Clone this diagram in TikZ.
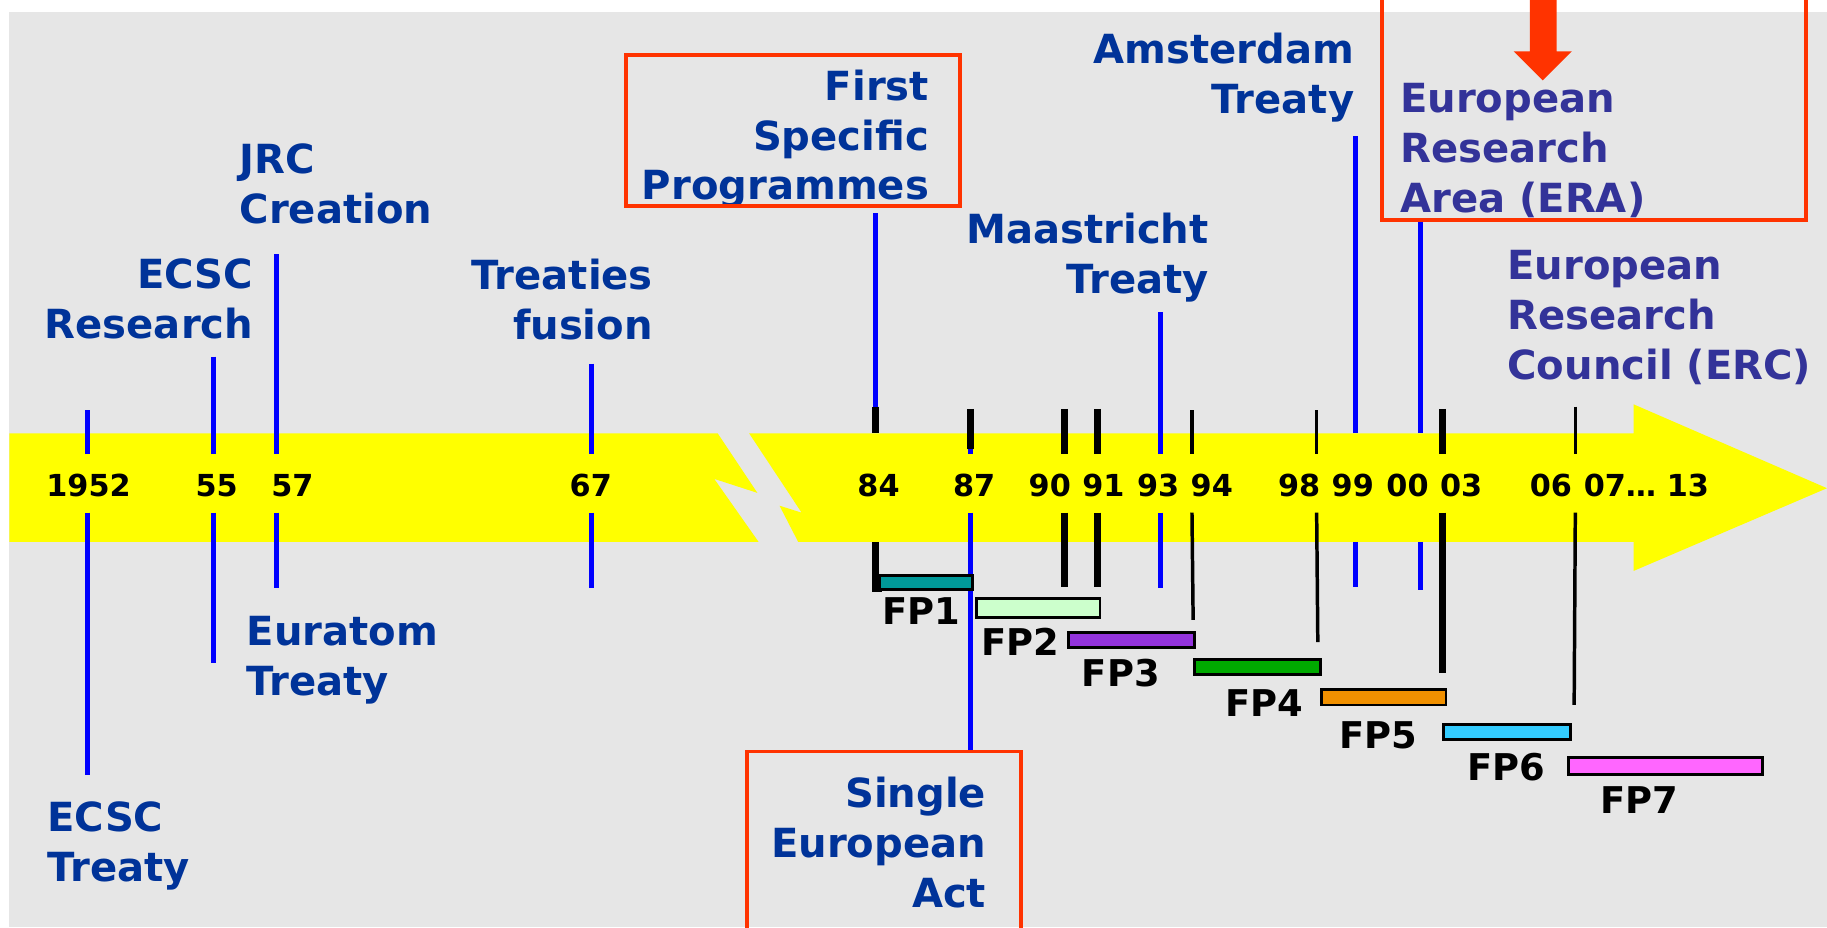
\documentclass[tikz,border=0pt]{standalone}
\usepackage{fontspec}
\setmainfont{DejaVu Sans}

\definecolor{labelblue}{HTML}{003399}
\definecolor{erablue}{HTML}{333399}
\definecolor{tickblue}{HTML}{0000FF}
\definecolor{boxred}{HTML}{FF3300}
\definecolor{bandyellow}{HTML}{FFFF00}
\definecolor{bggrey}{HTML}{E6E6E6}

\begin{document}
\begin{tikzpicture}[x=0.1mm, y=-0.1mm,
    eventlabel/.style={font=\fontsize{9.8}{12.2}\selectfont\bfseries, text=labelblue, inner sep=0pt},
    yearlabel/.style={font=\fontsize{7.4}{9}\selectfont\bfseries, inner sep=0pt, anchor=base},
    fplabel/.style={font=\fontsize{9}{11}\selectfont\bfseries, inner sep=0pt, anchor=base},
    fpbar/.style={draw=black, line width=0.7pt},
    bluetick/.style={draw=tickblue, line width=1.2pt},
    fptick/.style={draw=black, line width=1.7pt},
    thintick/.style={draw=black, line width=0.85pt},
    redbox/.style={draw=boxred, line width=0.9pt}]

    \useasboundingbox (0,0) rectangle (1568,796);
    \clip (0,0) rectangle (1568,796);

    % Fondo
    \fill[white] (0,0) rectangle (1568,796);
    \fill[bggrey] (8,10) rectangle (1568,796);

    % Banda amarilla con corte
    \fill[bandyellow] (8,372) -- (616,372) -- (650,423) -- (613,411) -- (651,465) -- (8,465) -- cycle;
    \fill[bandyellow] (643,372) -- (1402,372) -- (1402,347) -- (1568,419) -- (1402,490) -- (1402,465)
        -- (685,465) -- (669,434) -- (688,440) -- cycle;

    % Marcas azules (tratados y hitos)
    \draw[bluetick] (75,352) -- (75,390);   \draw[bluetick] (75,440) -- (75,665);
    \draw[bluetick] (183,306) -- (183,390); \draw[bluetick] (183,440) -- (183,569);
    \draw[bluetick] (237,218) -- (237,390); \draw[bluetick] (237,440) -- (237,505);
    \draw[bluetick] (508,312) -- (508,390); \draw[bluetick] (508,440) -- (508,505);
    \draw[bluetick] (751,183) -- (751,349);
    \draw[bluetick] (833,385) -- (833,390); \draw[bluetick] (833,440) -- (833,645);
    \draw[bluetick] (996,268) -- (996,390); \draw[bluetick] (996,440) -- (996,505);
    \draw[bluetick] (1163,117) -- (1163,372); \draw[bluetick] (1163,465) -- (1163,504);
    \draw[bluetick] (1219,189) -- (1219,372); \draw[bluetick] (1219,465) -- (1219,506);

    % Marcas negras (programas marco)
    \draw[fptick] (751,349) -- (751,372);
    \draw[fptick] (751,465) -- (751,505) -- (757,505);
    \draw[fptick] (833,351) -- (833,385);
    \draw[fptick] (914,351) -- (914,390);  \draw[fptick] (914,440) -- (914,504);
    \draw[fptick] (942,351) -- (942,390);  \draw[fptick] (942,440) -- (942,504);
    \draw[fptick] (1238,351) -- (1238,390); \draw[fptick] (1238,440) -- (1238,578);
    \draw[thintick] (1023,352) -- (1023,390); \draw[thintick] (1023,440) -- (1024,532);
    \draw[thintick] (1130,352) -- (1130,390); \draw[thintick] (1130,440) -- (1131,551);
    \draw[thintick] (1352,349) -- (1352,390); \draw[thintick] (1352,440) -- (1351,605);

    % Años
    \node[yearlabel] (y1952) at (76,426) {1952};
    \node[yearlabel] (y55) at (186,426) {55};
    \node[yearlabel] (y57) at (251,426) {57};
    \node[yearlabel] (y67) at (507,426) {67};
    \node[yearlabel] (y84) at (754,426) {84};
    \node[yearlabel] (y87) at (836,426) {87};
    \node[yearlabel] (y90) at (901,426) {90};
    \node[yearlabel] (y91) at (947,426) {91};
    \node[yearlabel] (y93) at (994,426) {93};
    \node[yearlabel] (y94) at (1040,426) {94};
    \node[yearlabel] (y98) at (1115,426) {98};
    \node[yearlabel] (y99) at (1161,426) {99};
    \node[yearlabel] (y00) at (1208,426) {00};
    \node[yearlabel] (y03) at (1254,426) {03};
    \node[yearlabel] (y06) at (1331,426) {06};
    \node[yearlabel] (y0713) at (1413,426) {07… 13};

    % Barras de los programas marco
    \draw[fpbar, fill={rgb,255:red,0;green,153;blue,153}] (755,494) rectangle (835,506);
    \draw[fpbar, fill={rgb,255:red,204;green,255;blue,204}] (838,514) rectangle (944,530);
    \draw[fpbar, fill={rgb,255:red,147;green,51;blue,221}] (917,543) rectangle (1025,556);
    \draw[fpbar, fill={rgb,255:red,0;green,170;blue,0}] (1025,566) rectangle (1133,579);
    \draw[fpbar, fill={rgb,255:red,240;green,144;blue,0}] (1134,592) rectangle (1241,605);
    \draw[fpbar, fill={rgb,255:red,51;green,204;blue,255}] (1239,622) rectangle (1348,635);
    \draw[fpbar, fill={rgb,255:red,255;green,102;blue,255}] (1346,650) rectangle (1513,665);

    \node[fplabel] (fp1) at (791,536) {FP1};
    \node[fplabel] (fp2) at (876,563) {FP2};
    \node[fplabel] (fp3) at (962,589) {FP3};
    \node[fplabel] (fp4) at (1085,615) {FP4};
    \node[fplabel] (fp5) at (1183,642) {FP5};
    \node[fplabel] (fp6) at (1293,670) {FP6};
    \node[fplabel] (fp7) at (1407,698) {FP7};

    % Hitos arriba
    \node[eventlabel, anchor=north east, align=right] (ecscres) at (218,221) {ECSC\\Research};
    \node[eventlabel, anchor=north west, align=left] (jrc) at (205,123) {JRC\\Creation};
    \node[eventlabel, anchor=north east, align=right] (fusion) at (561,222) {Treaties\\fusion};
    \node[eventlabel, anchor=north east, align=right] (firstsp) at (798,59) {First\\Specific\\Programmes};
    \node[eventlabel, anchor=north east, align=right] (maastricht) at (1038,182) {Maastricht\\Treaty};
    \node[eventlabel, anchor=north east, align=right] (amsterdam) at (1163,28) {Amsterdam\\Treaty};
    \node[eventlabel, text=erablue, anchor=north west, align=left] (era) at (1201,71) {European\\Research\\Area (ERA)};
    \node[eventlabel, text=erablue, anchor=north west, align=left] (erc) at (1293,214) {European\\Research\\Council (ERC)};

    % Hitos abajo
    \node[eventlabel, anchor=north west, align=left] (euratom) at (211,528) {Euratom\\Treaty};
    \node[eventlabel, anchor=north west, align=left] (ecsctreaty) at (40,687) {ECSC\\Treaty};
    \node[eventlabel, anchor=north east, align=right] (singleact) at (847,666) {Single\\European\\Act};

    % Recuadros rojos y flecha
    \draw[redbox] (537,47) rectangle (824,177);
    \draw[redbox] (641,645) rectangle (876,820);
    \draw[redbox] (1186,-20) rectangle (1550,189);
    \fill[boxred] (1313,-5) -- (1336,-5) -- (1336,44) -- (1349,44) -- (1324,69) -- (1299,44) -- (1313,44) -- cycle;
\end{tikzpicture}
\end{document}
